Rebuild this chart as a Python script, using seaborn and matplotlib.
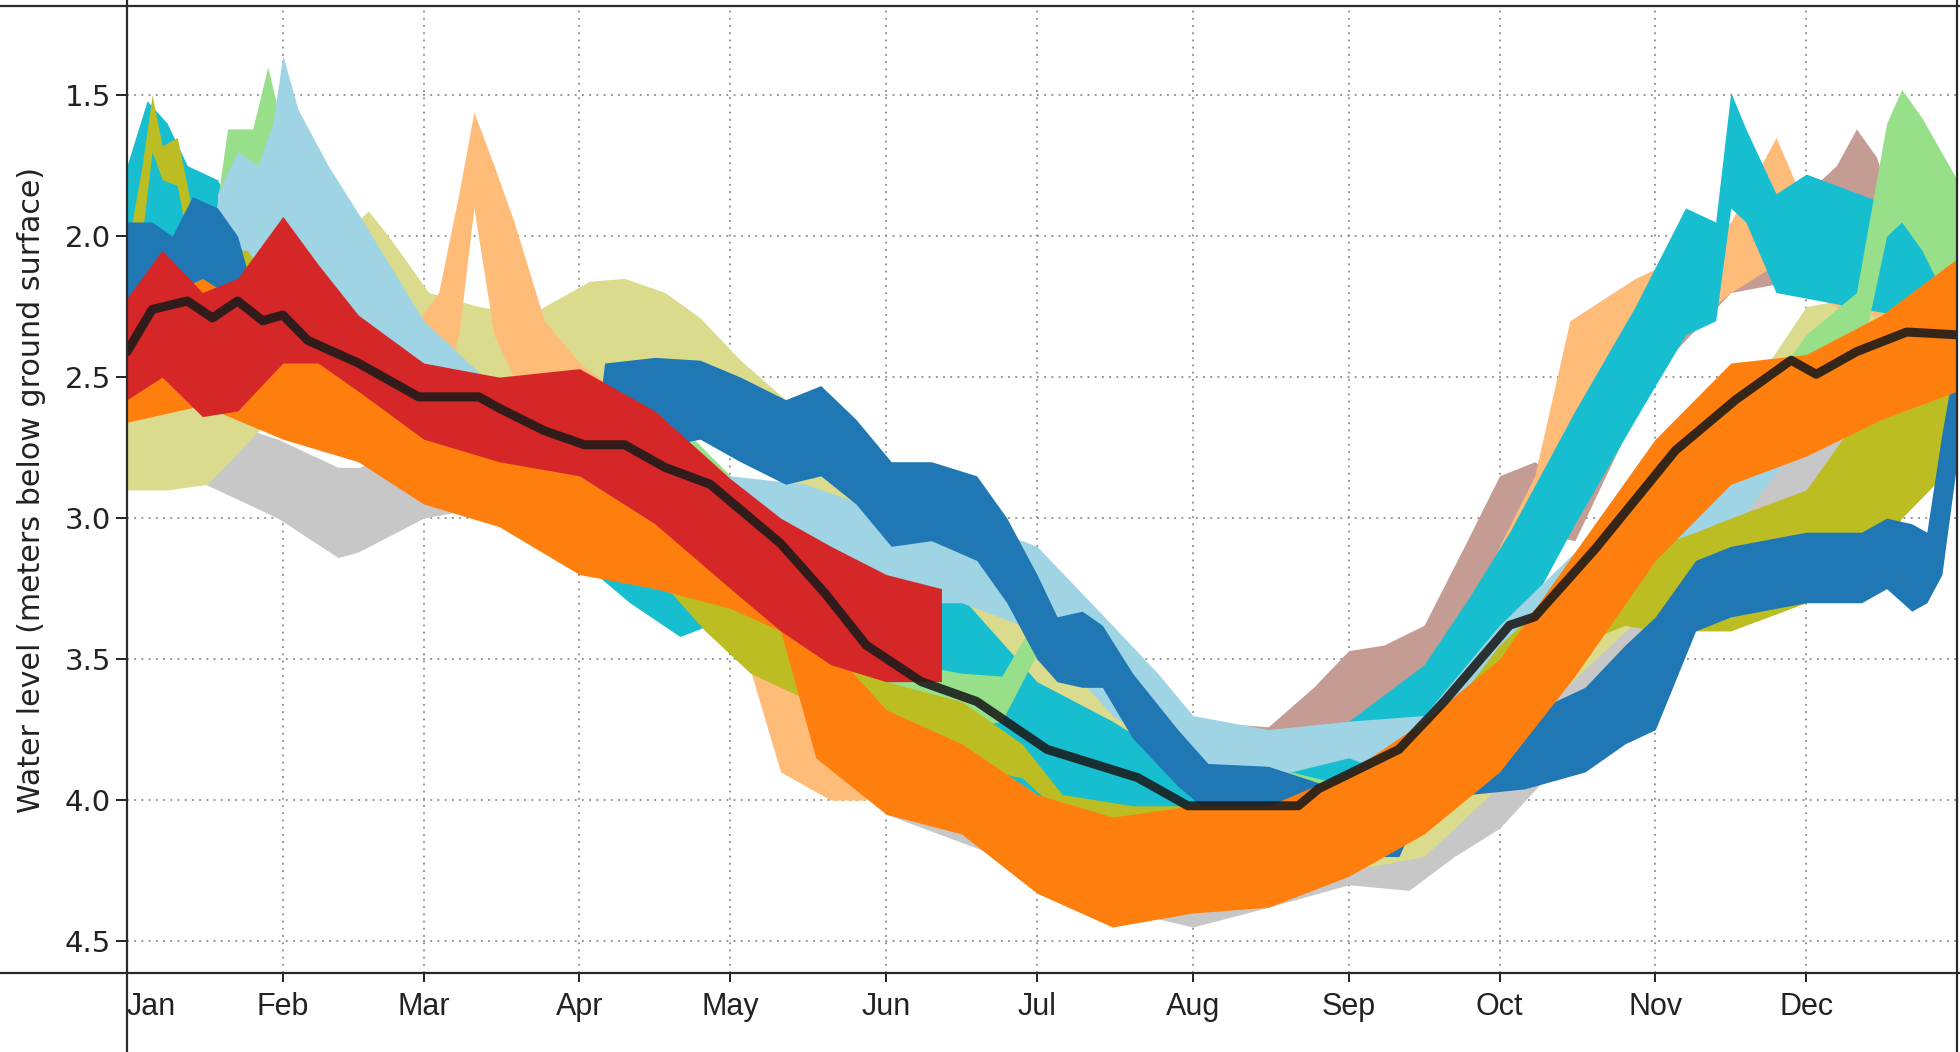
import pandas as pd
import matplotlib.pyplot as plt
import seaborn as sns
from matplotlib.lines import Line2D

# day of year (Jan 1 = 0), band top / bottom in metres below ground surface
grey_days = [0, 18, 30, 42, 46, 59, 74, 90, 120, 151, 181, 200, 212, 227, 243, 255, 264, 273, 304, 334, 364]
grey_top = [2.45, 2.65, 2.72, 2.82, 2.82, 2.75, 2.75, 2.85, 3.1, 3.75, 4.0, 4.15, 4.22, 4.15, 4.1, 4.0, 3.9, 3.78, 3.2, 2.7, 2.5]
grey_bot = [2.75, 2.9, 3.0, 3.14, 3.12, 3.0, 2.95, 3.05, 3.4, 4.05, 4.25, 4.4, 4.45, 4.38, 4.3, 4.32, 4.2, 4.1, 3.5, 3.0, 2.8]

pink_days = [0, 31, 38, 41, 44, 46, 52, 59, 90, 120, 151, 181, 200, 212, 227, 236, 243, 250, 258, 266, 273, 280, 288, 304, 319, 334, 340, 344, 348, 352, 364]
pink_top = [2.3, 2.0, 1.95, 1.83, 1.9, 2.0, 2.2, 2.4, 2.8, 3.1, 3.4, 3.6, 3.7, 3.72, 3.74, 3.6, 3.47, 3.45, 3.38, 3.1, 2.85, 2.8, 2.9, 2.28, 1.95, 1.85, 1.75, 1.62, 1.72, 1.95, 2.1]
pink_bot = [2.6, 2.3, 2.2, 2.1, 2.05, 2.3, 2.45, 2.65, 3.05, 3.35, 3.65, 3.85, 3.9, 3.85, 3.85, 3.8, 3.8, 3.75, 3.65, 3.4, 3.2, 3.05, 3.08, 2.48, 2.2, 2.15, 2.1, 2.0, 2.0, 2.15, 2.3]

khaki_days = [0, 8, 16, 31, 40, 48, 52, 60, 70, 80, 92, 99, 107, 114, 122, 131, 151, 166, 181, 196, 212, 227, 243, 258, 273, 285, 304, 319, 334, 349, 364]
khaki_top = [2.55, 2.6, 2.6, 2.3, 2.05, 1.91, 2.0, 2.2, 2.25, 2.28, 2.16, 2.15, 2.2, 2.29, 2.44, 2.58, 2.9, 3.15, 3.4, 3.65, 3.85, 4.0, 4.1, 3.95, 3.65, 3.45, 3.0, 2.65, 2.25, 2.2, 2.2]
khaki_bot = [2.9, 2.9, 2.88, 2.6, 2.35, 2.23, 2.3, 2.5, 2.52, 2.53, 2.52, 2.5, 2.55, 2.6, 2.7, 2.9, 3.15, 3.45, 3.7, 3.9, 4.05, 4.2, 4.25, 4.2, 3.95, 3.62, 3.3, 2.95, 2.5, 2.5, 2.5]

peach_days = [0, 20, 26, 31, 50, 58, 62, 66, 69, 73, 77, 83, 90, 105, 120, 130, 140, 147, 151, 166, 181, 196, 212, 227, 243, 258, 273, 280, 287, 300, 312, 319, 328, 334, 340, 364]
peach_top = [2.3, 2.1, 2.05, 2.2, 2.15, 2.3, 2.2, 1.85, 1.56, 1.75, 1.95, 2.3, 2.45, 2.65, 2.95, 3.5, 3.6, 3.7, 3.65, 3.62, 3.75, 3.9, 3.95, 3.95, 3.9, 3.7, 3.1, 2.85, 2.3, 2.15, 2.05, 1.95, 1.65, 1.9, 2.0, 2.1]
peach_bot = [2.6, 2.5, 2.4, 2.5, 2.45, 2.6, 2.6, 2.35, 1.9, 2.35, 2.5, 2.65, 2.8, 2.95, 3.3, 3.9, 4.0, 4.0, 3.95, 3.85, 3.95, 4.05, 4.15, 4.15, 4.1, 3.95, 3.4, 3.1, 2.8, 2.45, 2.3, 2.2, 2.1, 2.2, 2.25, 2.35]

cyan_days = [0, 4, 8, 12, 18, 25, 31, 46, 59, 74, 90, 100, 110, 120, 135, 151, 166, 181, 196, 205, 212, 227, 243, 258, 267, 275, 288, 300, 310, 316, 319, 322, 328, 334, 349, 364]
cyan_top = [1.75, 1.52, 1.6, 1.75, 1.8, 2.05, 2.25, 2.5, 2.6, 2.7, 2.85, 2.95, 3.1, 3.05, 3.2, 3.3, 3.28, 3.58, 3.72, 3.82, 3.82, 3.78, 3.72, 3.52, 3.28, 3.05, 2.62, 2.25, 1.9, 1.95, 1.49, 1.62, 1.85, 1.78, 1.88, 1.95]
cyan_bot = [2.2, 2.05, 2.1, 2.15, 2.3, 2.45, 2.6, 2.8, 2.9, 3.0, 3.15, 3.3, 3.42, 3.35, 3.5, 3.6, 3.8, 4.05, 4.12, 4.1, 4.05, 4.0, 3.98, 3.85, 3.65, 3.45, 3.02, 2.65, 2.35, 2.3, 1.9, 1.95, 2.2, 2.22, 2.27, 2.3]

green_days = [17, 20, 25, 28, 30, 34, 40, 46, 59, 74, 90, 105, 120, 135, 151, 166, 174, 181, 190, 200, 212, 227, 243, 258, 273, 288, 304, 319, 334, 344, 350, 353, 357, 364]
green_top = [2.0, 1.62, 1.62, 1.4, 1.55, 1.8, 1.95, 2.1, 2.35, 2.55, 2.62, 2.58, 2.85, 3.15, 3.5, 3.55, 3.56, 3.35, 3.4, 3.6, 3.85, 3.88, 3.95, 3.75, 3.5, 3.2, 2.85, 2.72, 2.35, 2.2, 1.6, 1.48, 1.58, 1.8]
green_bot = [2.3, 2.1, 2.05, 1.95, 1.95, 2.05, 2.2, 2.45, 2.7, 2.85, 2.9, 2.88, 3.15, 3.45, 3.75, 3.75, 3.72, 3.48, 3.55, 3.75, 3.98, 4.0, 4.1, 3.95, 3.8, 3.45, 3.1, 3.05, 2.65, 2.5, 2.0, 1.95, 2.05, 2.3]

lblue_days = [18, 22, 26, 29, 31, 34, 40, 46, 59, 74, 90, 105, 120, 135, 151, 166, 181, 196, 205, 212, 227, 243, 258, 273, 288, 304, 319, 334, 349, 364]
lblue_top = [1.85, 1.7, 1.75, 1.6, 1.36, 1.55, 1.75, 1.92, 2.3, 2.55, 2.7, 2.8, 2.85, 2.88, 2.98, 3.0, 3.1, 3.38, 3.55, 3.7, 3.75, 3.72, 3.7, 3.38, 3.12, 2.72, 2.68, 2.45, 2.5, 2.35]
lblue_bot = [2.35, 2.3, 2.25, 2.2, 2.05, 2.15, 2.25, 2.4, 2.75, 2.9, 3.0, 3.1, 3.2, 3.25, 3.3, 3.3, 3.4, 3.7, 3.8, 3.9, 3.92, 3.85, 3.95, 3.62, 3.45, 3.1, 3.05, 2.7, 2.72, 2.6]

olive_days = [0, 3, 5, 7, 10, 14, 20, 24, 31, 46, 59, 74, 90, 105, 115, 124, 136, 151, 166, 178, 186, 200, 212, 227, 243, 258, 273, 288, 298, 304, 312, 319, 334, 346, 353, 364]
olive_top = [2.05, 1.75, 1.5, 1.68, 1.65, 2.0, 2.05, 2.05, 2.25, 2.45, 2.6, 2.7, 2.8, 2.95, 3.1, 3.3, 3.4, 3.58, 3.65, 3.8, 3.98, 4.02, 4.02, 4.02, 3.98, 3.8, 3.45, 3.2, 3.15, 3.1, 3.05, 3.0, 2.9, 2.6, 2.55, 2.45]
olive_bot = [2.3, 2.0, 1.7, 1.8, 1.82, 2.2, 2.35, 2.4, 2.55, 2.75, 2.88, 2.95, 3.05, 3.2, 3.4, 3.55, 3.65, 3.85, 3.88, 3.92, 4.05, 4.1, 4.12, 4.15, 4.15, 4.05, 3.75, 3.45, 3.38, 3.4, 3.4, 3.4, 3.3, 3.2, 3.0, 2.8]

bluea_days = [0, 5, 9, 13, 18, 22, 27, 31, 38, 46, 59, 74, 83, 91, 93]
bluea_top = [1.95, 1.95, 2.0, 1.86, 1.9, 2.0, 2.32, 2.38, 2.4, 2.45, 2.55, 2.65, 2.75, 2.78, 2.8]
bluea_bot = [2.3, 2.25, 2.3, 2.22, 2.25, 2.35, 2.58, 2.62, 2.64, 2.68, 2.8, 2.88, 2.9, 2.95, 2.95]

blueb_days = [93, 95, 105, 114, 122, 131, 138, 145, 152, 160, 169, 175, 181, 185, 190, 194, 200, 209, 215, 227, 239, 245, 253, 258, 267, 278, 290, 298, 304, 312, 319, 334, 345, 350, 355, 358, 361, 364]
blueb_top = [2.75, 2.45, 2.43, 2.44, 2.5, 2.58, 2.53, 2.65, 2.8, 2.8, 2.85, 3.0, 3.2, 3.35, 3.33, 3.38, 3.55, 3.75, 3.87, 3.88, 3.95, 4.05, 4.05, 3.78, 3.72, 3.7, 3.6, 3.45, 3.35, 3.15, 3.1, 3.05, 3.05, 3.0, 3.02, 3.05, 2.7, 2.4]
blueb_bot = [2.95, 2.75, 2.75, 2.72, 2.8, 2.88, 2.85, 2.95, 3.1, 3.08, 3.15, 3.3, 3.5, 3.58, 3.6, 3.6, 3.78, 3.95, 4.04, 4.04, 4.04, 4.2, 4.2, 4.0, 3.98, 3.96, 3.9, 3.8, 3.75, 3.4, 3.35, 3.3, 3.3, 3.25, 3.33, 3.3, 3.2, 2.8]

orange_days = [0, 15, 31, 46, 59, 74, 90, 105, 120, 130, 137, 151, 166, 181, 196, 212, 227, 243, 258, 273, 288, 304, 319, 334, 349, 364]
orange_top = [2.28, 2.15, 2.33, 2.52, 2.55, 2.67, 2.85, 2.93, 3.02, 3.1, 3.4, 3.68, 3.8, 3.98, 4.06, 4.02, 4.02, 3.9, 3.72, 3.5, 3.12, 2.72, 2.45, 2.42, 2.28, 2.08]
orange_bot = [2.66, 2.6, 2.72, 2.8, 2.95, 3.03, 3.2, 3.25, 3.32, 3.4, 3.85, 4.05, 4.12, 4.33, 4.45, 4.4, 4.38, 4.27, 4.12, 3.9, 3.56, 3.15, 2.88, 2.78, 2.65, 2.55]

red_days = [0, 7, 15, 22, 31, 38, 46, 59, 74, 90, 105, 120, 130, 140, 151, 162]
red_top = [2.22, 2.05, 2.2, 2.15, 1.93, 2.1, 2.28, 2.45, 2.5, 2.47, 2.62, 2.86, 3.0, 3.1, 3.2, 3.25]
red_bot = [2.58, 2.5, 2.64, 2.62, 2.45, 2.45, 2.55, 2.72, 2.8, 2.85, 3.02, 3.25, 3.4, 3.52, 3.58, 3.58]

mean_days = [0, 5, 12, 17, 22, 27, 31, 36, 46, 58, 70, 74, 83, 91, 99, 107, 116, 130, 139, 147, 158, 169, 183, 201, 211, 233, 237, 253, 262, 275, 280, 292, 308, 320, 331, 336, 344, 354, 364]
mean_level = [2.41, 2.26, 2.23, 2.29, 2.23, 2.3, 2.28, 2.37, 2.45, 2.57, 2.57, 2.61, 2.69, 2.74, 2.74, 2.82, 2.88, 3.09, 3.27, 3.45, 3.58, 3.65, 3.82, 3.92, 4.02, 4.02, 3.96, 3.82, 3.65, 3.38, 3.35, 3.11, 2.76, 2.58, 2.44, 2.49, 2.41, 2.34, 2.35]

month_days = [0, 31, 59, 90, 120, 151, 181, 212, 243, 273, 304, 334]
month_labels = ['Jan', 'Feb', 'Mar', 'Apr', 'May', 'Jun', 'Jul', 'Aug', 'Sep', 'Oct', 'Nov', 'Dec']
level_ticks = [1.5, 2.0, 2.5, 3.0, 3.5, 4.0, 4.5]

# draw order, bottom first
series = {
    'grey': (grey_days, grey_top, grey_bot, '#c7c7c7'),
    'pink': (pink_days, pink_top, pink_bot, '#c49c94'),
    'khaki': (khaki_days, khaki_top, khaki_bot, '#dbdb8d'),
    'peach': (peach_days, peach_top, peach_bot, '#ffbb78'),
    'cyan': (cyan_days, cyan_top, cyan_bot, '#17becf'),
    'green': (green_days, green_top, green_bot, '#98df8a'),
    'lblue': (lblue_days, lblue_top, lblue_bot, '#9fd4e4'),
    'olive': (olive_days, olive_top, olive_bot, '#bcbd22'),
    'blue_a': (bluea_days, bluea_top, bluea_bot, '#1f77b4'),
    'blue_b': (blueb_days, blueb_top, blueb_bot, '#1f77b4'),
    'orange': (orange_days, orange_top, orange_bot, '#ff7f0e'),
    'red': (red_days, red_top, red_bot, '#d62728'),
}

rows = []
for name, (days, top, bot, _) in series.items():
    for d, t, b in zip(days, top, bot):
        rows.append((name, d, t))
        rows.append((name, d, b))
df = pd.DataFrame(rows, columns=['series', 'day', 'level'])
palette = {k: v[3] for k, v in series.items()}

sns.set_theme(style="white")
plt.rcParams['font.family'] = ['DejaVu Sans']

fig = plt.figure(figsize=(19.6, 10.52), dpi=100)
ax = fig.add_axes([127 / 1960, 79 / 1052, 1830 / 1960, 967 / 1052])

# each year drawn as a min-max band
sns.lineplot(data=df, x='day', y='level', hue='series', hue_order=list(series.keys()),
             palette=palette, estimator='mean', errorbar=('pi', 100), linewidth=0,
             err_kws={'alpha': 1, 'linewidth': 0}, legend=False, ax=ax)

# long term mean
sns.lineplot(x=mean_days, y=mean_level, color='#1a1a1a', linewidth=6.5, alpha=0.88, ax=ax)

ax.set_xlim(0, 364)
ax.set_ylim(4.613, 1.184)
ax.set_xticks(month_days, month_labels)
ax.set_yticks(level_ticks, [f'{v:.1f}' for v in level_ticks])
for lab in ax.get_xticklabels():
    lab.set_fontfamily(['Liberation Sans', 'DejaVu Sans'])
    lab.set_fontsize(22)
ax.get_xticklabels()[0].set_ha('left')
ax.tick_params(axis='y', labelsize=21, length=8, width=1.4, pad=3.5, colors='#222222', left=True)
ax.tick_params(axis='x', length=6.5, width=1.4, pad=7, colors='#222222', bottom=True)

ax.grid(True, color='#8a8a8a', linestyle=(0, (1, 3)), linewidth=1.3)
ax.set_axisbelow(True)
ax.set_xlabel('')
ax.set_ylabel('Water level (meters below ground surface)', fontsize=21.7, color='#222222')
ax.yaxis.set_label_coords(-0.044, 0.5)

for s in ax.spines.values():
    s.set_visible(False)

# frame lines run past the plot edges, like a table border
for y in [1 - 6 / 1052, 79 / 1052]:
    fig.add_artist(Line2D([0, 1], [y, y], color='#2a2a2a', linewidth=1.6, transform=fig.transFigure))
for x in [127 / 1960, 1957 / 1960]:
    fig.add_artist(Line2D([x, x], [0, 1], color='#2a2a2a', linewidth=1.6, transform=fig.transFigure))

fig.savefig('out.png', dpi=100)
